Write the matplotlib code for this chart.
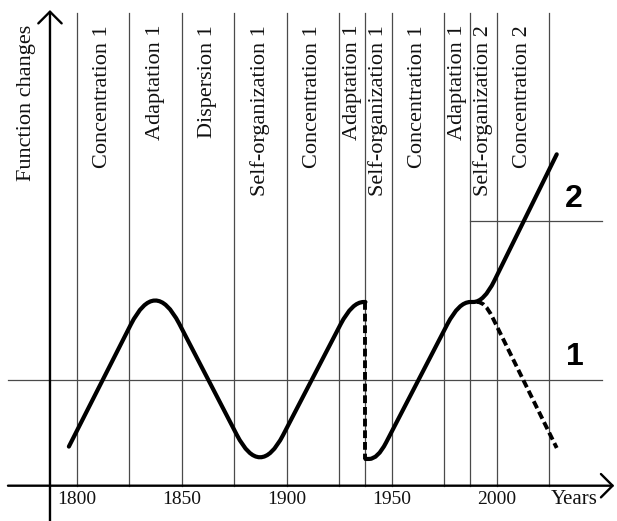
import matplotlib
matplotlib.use('Agg')
import matplotlib.pyplot as plt
from matplotlib.path import Path
from matplotlib.patches import PathPatch

# stage boundaries (years) and stage names between them
stage_bounds = [1800, 1825, 1850, 1875, 1900, 1925, 1937.5, 1950, 1975, 1987.5, 2000, 2025]
stage_names = ['Concentration 1', 'Adaptation 1', 'Dispersion 1', 'Self-organization 1',
               'Concentration 1', 'Adaptation 1', 'Self-organization 1', 'Concentration 1',
               'Adaptation 1', 'Self-organization 2', 'Concentration 2']
year_ticks = [1800, 1850, 1900, 1950, 2000]

# curve 1 (first cycles), corners of the polyline
curve1_years = [1796.3, 1837.3, 1887.3, 1931.2, 1937.5]
curve1_values = [0.37, 1.975, 0.058, 1.738, 1.738]
# break between cycles
drop_years = [1937.5, 1937.5]
drop_values = [1.738, 0.253]
# curve 2 (new cycle going up)
curve2_years = [1937.5, 1943.3, 1982.0, 1993.9, 2028.6]
curve2_values = [0.253, 0.253, 1.738, 1.738, 3.135]
# continuation of curve 1 (dashed)
curve1c_years = [1990.5, 1994.4, 2028.6]
curve1c_values = [1.738, 1.738, 0.357]

level1 = 1.0
level2 = 2.5


def rounded_path(xs, ys, radii):
    verts = [(xs[0], ys[0])]
    codes = [Path.MOVETO]
    for i in range(1, len(xs) - 1):
        r = radii[i - 1]
        px, py = xs[i], ys[i]
        ax_, ay = xs[i - 1], ys[i - 1]
        bx, by = xs[i + 1], ys[i + 1]
        t1 = min(r / abs(px - ax_), 1)
        t2 = min(r / abs(bx - px), 1)
        verts += [(px + (ax_ - px) * t1, py + (ay - py) * t1), (px, py),
                  (px + (bx - px) * t2, py + (by - py) * t2)]
        codes += [Path.LINETO, Path.CURVE3, Path.CURVE3]
    verts.append((xs[-1], ys[-1]))
    codes.append(Path.LINETO)
    return Path(verts, codes)


fig = plt.figure(figsize=(6.17, 5.21), dpi=100)
ax = fig.add_axes([0, 0, 1, 1])
ax.set_xlim(1763.5, 2057.3)
ax.set_ylim(-0.334, 4.595)
ax.axis('off')

grid_c = '#4a4a4a'
top = 4.47

# vertical stage lines
for b in stage_bounds:
    ax.plot([b, b], [0, top], color=grid_c, lw=0.9, zorder=1)

# horizontal levels
ax.plot([1767.3, 2050.1], [level1, level1], color=grid_c, lw=0.9, zorder=1)
ax.plot([stage_bounds[9], 2050.1], [level2, level2], color=grid_c, lw=0.9, zorder=1)

# axes with arrows
arr = dict(arrowstyle='->,head_length=0.42,head_width=0.42', lw=1.7, color='black',
           shrinkA=0, shrinkB=0, mutation_scale=20)
ax.annotate('', xy=(2056.0, 0), xytext=(1767.3, 0), arrowprops=arr)
ax.annotate('', xy=(1787.3, 4.5), xytext=(1787.3, -0.334), arrowprops=arr)

serif = 'Liberation Serif'
for i, name in enumerate(stage_names):
    xc = (stage_bounds[i] + stage_bounds[i + 1]) / 2
    ax.text(xc, 4.36, name, rotation=90, ha='center', va='top',
            fontsize=16, family=serif, color='#111111')

ax.text(1775.9, 4.36, 'Function changes', rotation=90, ha='center', va='top',
        fontsize=16, family=serif, color='#111111')

for t in year_ticks:
    ax.text(t, -0.135, str(t), ha='center', va='center', fontsize=14,
            family=serif, color='#111111')
ax.text(2037.0, -0.135, 'Years', ha='center', va='center', fontsize=15,
        family=serif, color='#111111')

ax.text(2037.3, 1.22, '1', ha='center', va='center', fontsize=23,
        family='Liberation Sans', weight='bold')
ax.text(2036.5, 2.715, '2', ha='center', va='center', fontsize=23,
        family='Liberation Sans', weight='bold')

# curves
p1 = rounded_path(curve1_years, curve1_values, [11.5, 11, 5.5])
ax.add_patch(PathPatch(p1, fill=False, lw=3, color='black', capstyle='round',
                       joinstyle='round', zorder=3))
p2 = rounded_path(curve2_years, curve2_values, [4, 5.5, 5])
ax.add_patch(PathPatch(p2, fill=False, lw=3, color='black', capstyle='round',
                       joinstyle='round', zorder=3))
p3 = rounded_path(curve1c_years, curve1c_values, [3.5])
ax.add_patch(PathPatch(p3, fill=False, lw=2.8, color='black', ls=(0, (2, 1)),
                       zorder=3))
ax.plot(drop_years, drop_values, color='black', lw=2.8, ls=(0, (2, 1)), zorder=3)

fig.savefig('out.png', dpi=100)
